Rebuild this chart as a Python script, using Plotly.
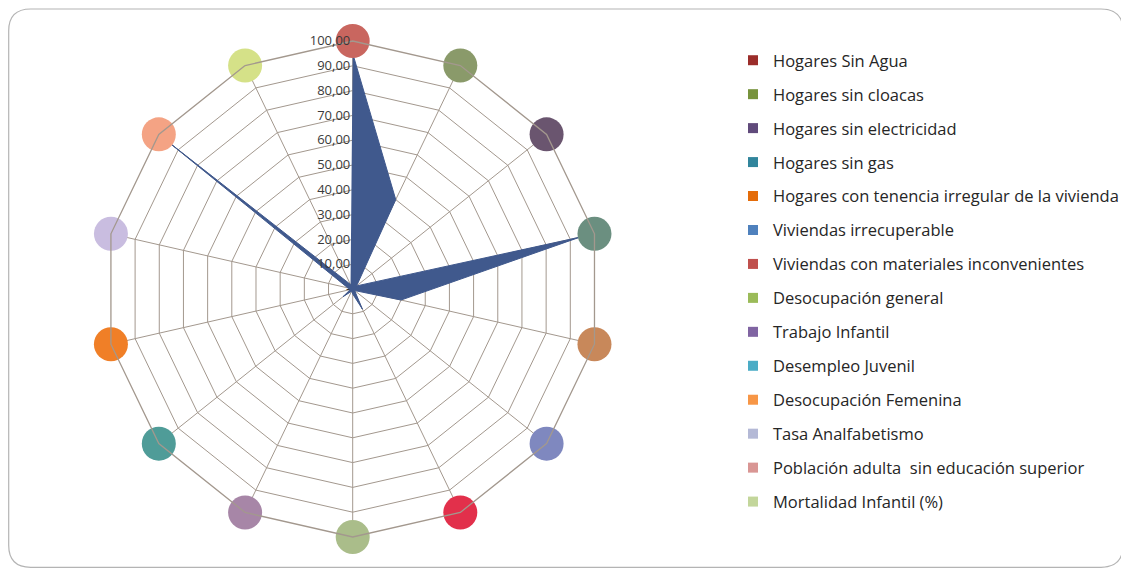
import plotly.graph_objects as go

categories = [
    "Hogares Sin Agua",
    "Hogares sin cloacas",
    "Hogares sin electricidad",
    "Hogares sin gas",
    "Hogares con tenencia irregular de la vivienda",
    "Viviendas irrecuperable",
    "Viviendas con materiales inconvenientes",
    "Desocupación general",
    "Trabajo Infantil",
    "Desempleo Juvenil",
    "Desocupación Femenina",
    "Tasa Analfabetismo",
    "Población adulta  sin educación superior",
    "Mortalidad Infantil (%)",
]
values = [95, 40, 2, 94, 20, 1, 9, 2, 1, 5, 1, 2, 96, 2]
circle_colors = ["#c9665f", "#8a9a6a", "#6a556f", "#6b8f80", "#c8885a", "#7f88bf",
                 "#e2304b", "#aabd8a", "#a786a7", "#4f9c98", "#f07f27", "#c9bde0",
                 "#f4a384", "#d5e188"]
legend_colors = ["#9b2d2a", "#77933c", "#604a7b", "#31859c", "#e46c0a", "#4f81bd",
                 "#c0504d", "#9bbb59", "#8064a2", "#4bacc6", "#f79646", "#b4b9d6",
                 "#d99694", "#c3d69b"]
tick_vals = [0, 10, 20, 30, 40, 50, 60, 70, 80, 90, 100]
tick_text = ["-", "10,00", "20,00", "30,00", "40,00", "50,00", "60,00", "70,00",
             "80,00", "90,00", "100,00"]

# page body has an 8px margin: the figure is sized so the page does not scroll
OFF = 8
W, H = 1129 - OFF, 576 - 2 * OFF
fig = go.Figure()

# data polygon
fig.add_trace(go.Scatterpolar(
    r=values, theta=categories, mode="lines", fill="toself",
    fillcolor="#40598d", line=dict(color="#40598d", width=1),
    showlegend=False, hoverinfo="skip"))

# category circles at the outer ring
fig.add_trace(go.Scatterpolar(
    r=[100] * len(categories), theta=categories, mode="markers",
    marker=dict(size=34, color=circle_colors, line=dict(width=0)),
    cliponaxis=False, showlegend=False, hoverinfo="theta"))

# legend entries
for i, (name, col) in enumerate(zip(categories, legend_colors)):
    fig.add_trace(go.Scatterpolar(
        r=[None], theta=[categories[0]], mode="markers", name=name,
        marker=dict(symbol="square", size=10, color=col),
        legendgroup="g%d" % i, showlegend=True))

cx, cy, R = 352.7 - OFF, 289.0 - OFF, 248.0
grid = "#a3988e"
fig.update_layout(
    width=W, height=H,
    margin=dict(l=0, r=0, t=0, b=0),
    paper_bgcolor="white",
    font=dict(family="Open Sans, Lato, sans-serif", color="#262626"),
    polar=dict(
        domain=dict(x=[(cx - R) / W, (cx + R) / W],
                    y=[(H - cy - R) / H, (H - cy + R) / H]),
        bgcolor="white",
        gridshape="linear",
        radialaxis=dict(range=[0, 100], tickvals=tick_vals, ticktext=tick_text,
                        ticksuffix="\u00a0\u00a0",
                        angle=90, tickangle=90, side="counterclockwise",
                        showline=False, ticks="", gridcolor=grid, gridwidth=1.3,
                        tickfont=dict(size=13, color="#3a3a3a")),
        angularaxis=dict(direction="clockwise", rotation=90, showticklabels=False,
                         ticks="", gridcolor=grid, gridwidth=1.3,
                         linecolor=grid, linewidth=1.3, showline=True),
    ),
    legend=dict(x=(733 - OFF) / W, xanchor="left", y=1 - (43 - OFF) / H,
                yanchor="top", font=dict(size=16.5, color="#262626"),
                tracegroupgap=9.5, bgcolor="rgba(0,0,0,0)", itemclick=False),
)

# rounded border around the chart area (page coords converted to figure coords)
x0, y0, x1, y1, rr = 0.7, 1, 1115, 559.3, 22
def px(x):
    return x / W
def py(y):
    return 1 - y / H
path = (f"M {px(x0+rr)},{py(y0)} L {px(x1-rr)},{py(y0)} "
        f"Q {px(x1)},{py(y0)} {px(x1)},{py(y0+rr)} "
        f"L {px(x1)},{py(y1-rr)} Q {px(x1)},{py(y1)} {px(x1-rr)},{py(y1)} "
        f"L {px(x0+rr)},{py(y1)} Q {px(x0)},{py(y1)} {px(x0)},{py(y1-rr)} "
        f"L {px(x0)},{py(y0+rr)} Q {px(x0)},{py(y0)} {px(x0+rr)},{py(y0)} Z")
fig.add_shape(type="path", path=path, xref="paper", yref="paper",
              line=dict(color="#b4b4b4", width=1.2), layer="below")

fig.write_html("out.html")
